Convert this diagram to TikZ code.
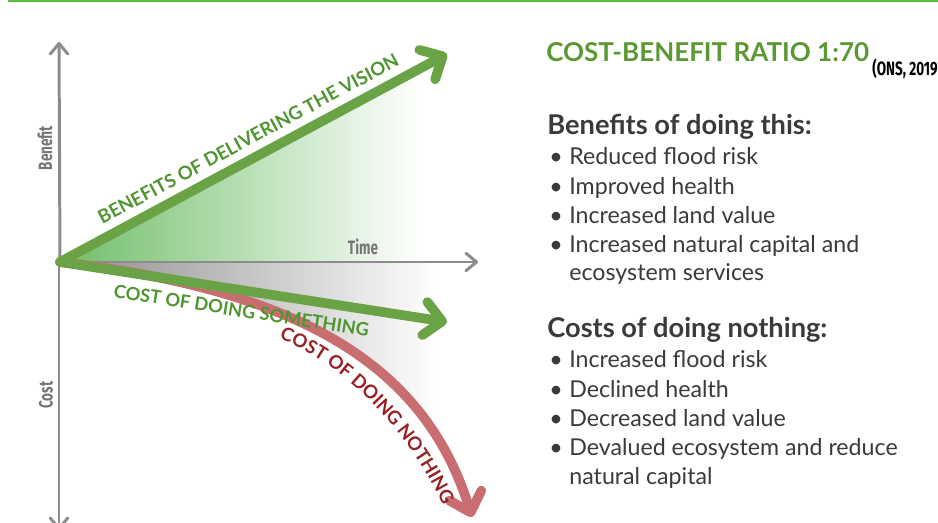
\documentclass[tikz,border=0pt]{standalone}
\usepackage{fontspec}
\setmainfont{Lato}
\newfontfamily\axisfont[FakeStretch=0.7]{Fira Sans}
\usetikzlibrary{arrows.meta,decorations.text}

\definecolor{rulegreen}{RGB}{88,190,62}
\definecolor{leafgreen}{RGB}{106,162,70}
\definecolor{fillgreen}{RGB}{112,190,104}
\definecolor{textgreen}{RGB}{80,150,48}
\definecolor{titlegreen}{RGB}{92,152,52}
\definecolor{rosered}{RGB}{200,110,112}
\definecolor{darkred}{RGB}{150,32,36}
\definecolor{axisgray}{RGB}{140,140,140}
\definecolor{labelgray}{RGB}{118,118,118}
\definecolor{bodygray}{RGB}{58,58,58}

\newcommand{\trendfont}{\bfseries\fontsize{10.4}{12}\selectfont}

\begin{document}
\begin{tikzpicture}[x=0.02cm, y=-0.02cm,
  axis/.style={draw=axisgray, line width=1.7pt, line cap=round,
    -{Straight Barb[round, length=6pt, width=10pt]}},
  trend/.style={line width=5.5pt, line cap=round,
    -{Straight Barb[round, length=10pt, width=19pt]}},
  axislabel/.style={font=\axisfont\bfseries\fontsize{11}{13}\selectfont, text=labelgray},
  trendlabel/.style={font=\trendfont, text=textgreen, inner sep=0pt},
  heading/.style={anchor=base west, inner sep=0pt, font=\bfseries\fontsize{15.5}{17}\selectfont, text=bodygray},
  item/.style={anchor=base west, inner sep=0pt, font=\fontsize{13.2}{15}\selectfont, text=bodygray}]
  \useasboundingbox (0,0) rectangle (938,523);

  \coordinate (o) at (60,262);
  \coordinate (tend) at (478,262);
  \coordinate (btop) at (59,42);
  \coordinate (cbot) at (59,530);
  \coordinate (vision) at (447,54);
  \coordinate (something) at (447,322);
  \coordinate (nothing) at (472,517);
  \coordinate (c1) at (300,290);
  \coordinate (c2) at (425,365);

  \draw[rulegreen, line width=1.2pt] (8,1) -- (938,1);

  % shaded areas
  \begin{scope}
    \clip (o) -- (vision) -- (447,262) -- cycle;
    \fill[left color=fillgreen, right color=white] (60,50) rectangle (422,262);
  \end{scope}
  \begin{scope}
    \clip (o) -- (480,262) -- (480,517) -- (nothing) .. controls (c2) and (c1) .. (o);
    \fill[left color=black!45, right color=white] (60,262) rectangle (440,520);
  \end{scope}

  \draw[axis] (o) -- (btop);
  \draw[axis] (59,262) -- (cbot);
  \draw[axis] (o) -- (tend);
  \node[axislabel, rotate=90] (benefit) at (45,148) {Benefit};
  \node[axislabel, rotate=90] (cost) at (46,395) {Cost};
  \node[axislabel] (time) at (363,247) {Time};

  \draw[trend, rosered] (o) .. controls (c1) and (c2) .. (nothing);
  \path[decorate, decoration={text along path, text color=darkred,
      text={|\bfseries\fontsize{10.6}{12}\selectfont|COST OF DOING NOTHING}}]
    (279,339) .. controls (330,358) and (400,412) .. (448,515);
  \draw[trend, leafgreen] (o) -- node[trendlabel, sloped, below=4.9pt, pos=0.477] (somelabel) {COST OF DOING SOMETHING} (something);
  \draw[trend, leafgreen] (o) -- node[trendlabel, sloped, above=4.4pt, pos=0.51, font=\bfseries\fontsize{10.6}{12}\selectfont] (visionlabel) {BENEFITS OF DELIVERING THE VISION} (vision);

  \node[anchor=base west, inner sep=0pt, text=titlegreen, font=\bfseries\fontsize{14.8}{18}\selectfont] (title) at (546,62) {COST-BENEFIT RATIO 1:70};
  \node[anchor=base west, inner sep=0pt, font=\axisfont\bfseries\fontsize{11}{12}\selectfont] (source) at (872,76) {(ONS, 2019};

  \node[heading] (benhead) at (547,135) {Benefits of doing this:};
  \foreach \txt [count=\i] in {Reduced flood risk, Improved health, Increased land value, Increased natural capital and}
    \node[item] (ben\i) at (549,135.7+29.3*\i) {\makebox[11.4pt][l]{\textbullet}\txt};
  \node[item] (ben5) at (569,281) {ecosystem services};

  \node[heading] (costhead) at (547,338) {Costs of doing nothing:};
  \foreach \txt [count=\i] in {Increased flood risk, Declined health, Decreased land value, Devalued ecosystem and reduce}
    \node[item] (cost\i) at (549,338.7+29.3*\i) {\makebox[11.4pt][l]{\textbullet}\txt};
  \node[item] (cost5) at (569,485) {natural capital};
\end{tikzpicture}
\end{document}
